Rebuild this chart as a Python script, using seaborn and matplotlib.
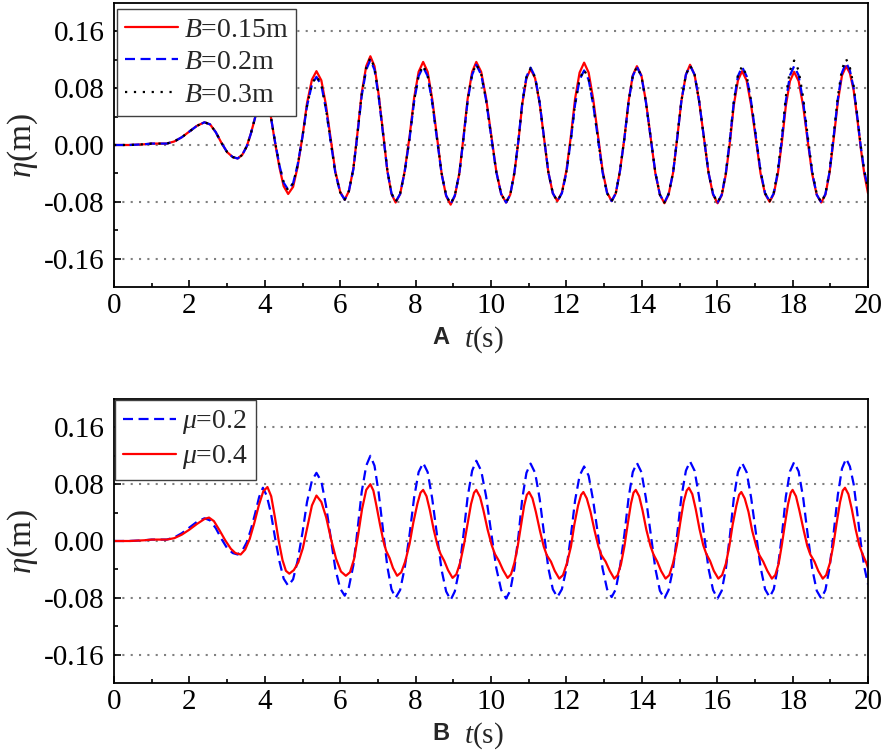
import numpy as np
import seaborn as sns
import matplotlib.pyplot as plt

# === Data (time in s, free-surface elevation in m) ===
# Panel A: three plate widths, sampled at the same instants
t_a = [
    0.0, 0.4, 0.8, 1.0, 1.2, 1.4, 1.6, 1.8, 2.0, 2.2, 2.4, 2.55, 2.7, 2.85,
    3.0, 3.15, 3.28, 3.40, 3.52, 3.63, 3.74, 3.85, 3.95, 4.05, 4.16, 4.27, 4.39, 4.50,
    4.62, 4.75, 4.87, 5.00, 5.12, 5.25,
    5.37, 5.50, 5.62, 5.75, 5.87, 6.00,
    6.12, 6.23, 6.35, 6.46, 6.57, 6.69,
    6.80, 6.91, 7.02, 7.14, 7.25, 7.36,
    7.47, 7.59, 7.71, 7.84, 7.96, 8.08,
    8.20, 8.32, 8.44, 8.57, 8.69, 8.81,
    8.93, 9.04, 9.16, 9.27, 9.38, 9.50,
    9.61, 9.74, 9.87, 10.01, 10.14, 10.27,
    10.40, 10.51, 10.62, 10.73, 10.83, 10.94,
    11.05, 11.17, 11.29, 11.41, 11.52, 11.64,
    11.76, 11.88, 12.00, 12.12, 12.23, 12.35,
    12.47, 12.59, 12.71, 12.84, 12.96, 13.08,
    13.20, 13.31, 13.42, 13.54, 13.65, 13.76,
    13.87, 13.99, 14.11, 14.24, 14.36, 14.48,
    14.60, 14.71, 14.83, 14.94, 15.05, 15.17,
    15.28, 15.40, 15.52, 15.65, 15.77, 15.89,
    16.01, 16.12, 16.23, 16.34, 16.44, 16.55,
    16.66, 16.78, 16.90, 17.03, 17.15, 17.27,
    17.39, 17.50, 17.61, 17.72, 17.82, 17.93,
    18.04, 18.16, 18.28, 18.40, 18.52, 18.64,
    18.76, 18.87, 18.98, 19.09, 19.20, 19.31,
    19.42, 19.52, 19.62, 19.71, 19.81, 19.90, 20.00,
]

eta_b015 = [
    0.000, 0.000, 0.001, 0.002, 0.002, 0.002, 0.005, 0.011, 0.019, 0.027, 0.032, 0.029, 0.018, 0.003,
    -0.010, -0.017, -0.019, -0.014, -0.002, 0.016, 0.038, 0.062, 0.075, 0.064, 0.040, 0.004, -0.032, -0.058,
    -0.069, -0.059, -0.031, 0.012, 0.059, 0.092,
    0.104, 0.091, 0.057, 0.008, -0.037, -0.066,
    -0.077, -0.065, -0.033, 0.018, 0.073, 0.111,
    0.125, 0.111, 0.071, 0.016, -0.036, -0.069,
    -0.081, -0.069, -0.037, 0.012, 0.066, 0.103,
    0.117, 0.103, 0.065, 0.011, -0.040, -0.072,
    -0.084, -0.072, -0.040, 0.011, 0.065, 0.103,
    0.117, 0.103, 0.066, 0.012, -0.037, -0.069,
    -0.081, -0.070, -0.040, 0.007, 0.058, 0.094,
    0.107, 0.094, 0.059, 0.008, -0.038, -0.068,
    -0.079, -0.067, -0.036, 0.013, 0.065, 0.102,
    0.116, 0.102, 0.065, 0.013, -0.036, -0.067,
    -0.079, -0.068, -0.037, 0.010, 0.062, 0.098,
    0.111, 0.098, 0.061, 0.009, -0.040, -0.070,
    -0.082, -0.070, -0.039, 0.010, 0.062, 0.099,
    0.113, 0.099, 0.062, 0.010, -0.039, -0.070,
    -0.082, -0.071, -0.041, 0.005, 0.056, 0.091,
    0.104, 0.091, 0.056, 0.007, -0.040, -0.069,
    -0.080, -0.069, -0.040, 0.006, 0.055, 0.090,
    0.103, 0.090, 0.055, 0.006, -0.041, -0.070,
    -0.081, -0.070, -0.039, 0.009, 0.061, 0.098,
    0.111, 0.101, 0.077, 0.040, -0.005, -0.040, -0.068,
]

# B = 0.2 m is also the mu = 0.2 case of panel B
eta_b02 = [
    0.000, 0.000, 0.001, 0.002, 0.002, 0.002, 0.005, 0.011, 0.019, 0.027, 0.032, 0.029, 0.018, 0.003,
    -0.010, -0.017, -0.019, -0.014, -0.002, 0.016, 0.038, 0.062, 0.075, 0.064, 0.040, 0.005, -0.029, -0.053,
    -0.063, -0.054, -0.028, 0.012, 0.055, 0.085,
    0.096, 0.084, 0.051, 0.004, -0.039, -0.067,
    -0.077, -0.065, -0.034, 0.016, 0.069, 0.106,
    0.120, 0.106, 0.068, 0.014, -0.036, -0.068,
    -0.080, -0.069, -0.038, 0.009, 0.061, 0.097,
    0.110, 0.097, 0.060, 0.008, -0.041, -0.071,
    -0.083, -0.071, -0.040, 0.009, 0.062, 0.099,
    0.113, 0.099, 0.063, 0.010, -0.038, -0.069,
    -0.081, -0.070, -0.039, 0.008, 0.060, 0.096,
    0.109, 0.096, 0.060, 0.009, -0.038, -0.068,
    -0.079, -0.068, -0.039, 0.008, 0.057, 0.092,
    0.105, 0.092, 0.057, 0.008, -0.039, -0.068,
    -0.079, -0.068, -0.037, 0.010, 0.061, 0.097,
    0.110, 0.097, 0.060, 0.009, -0.039, -0.070,
    -0.081, -0.069, -0.039, 0.010, 0.062, 0.099,
    0.112, 0.099, 0.062, 0.010, -0.039, -0.069,
    -0.081, -0.070, -0.039, 0.009, 0.060, 0.097,
    0.110, 0.097, 0.061, 0.010, -0.037, -0.068,
    -0.079, -0.068, -0.037, 0.010, 0.062, 0.098,
    0.111, 0.098, 0.061, 0.009, -0.039, -0.070,
    -0.081, -0.069, -0.038, 0.012, 0.065, 0.102,
    0.116, 0.105, 0.080, 0.042, -0.003, -0.036, -0.061,
]

eta_b03 = [
    0.000, 0.000, 0.001, 0.002, 0.002, 0.002, 0.005, 0.011, 0.019, 0.027, 0.032, 0.029, 0.018, 0.003,
    -0.010, -0.017, -0.019, -0.014, -0.002, 0.016, 0.038, 0.062, 0.075, 0.064, 0.040, 0.005, -0.029, -0.053,
    -0.064, -0.054, -0.029, 0.012, 0.055, 0.086,
    0.097, 0.085, 0.052, 0.005, -0.039, -0.067,
    -0.077, -0.065, -0.033, 0.017, 0.071, 0.109,
    0.123, 0.109, 0.070, 0.015, -0.035, -0.068,
    -0.080, -0.068, -0.038, 0.010, 0.062, 0.099,
    0.112, 0.098, 0.061, 0.009, -0.040, -0.071,
    -0.083, -0.071, -0.040, 0.010, 0.063, 0.100,
    0.114, 0.100, 0.063, 0.011, -0.038, -0.069,
    -0.081, -0.070, -0.039, 0.008, 0.059, 0.095,
    0.108, 0.095, 0.059, 0.009, -0.038, -0.068,
    -0.079, -0.068, -0.038, 0.008, 0.058, 0.093,
    0.106, 0.093, 0.058, 0.008, -0.038, -0.068,
    -0.079, -0.068, -0.037, 0.010, 0.061, 0.097,
    0.110, 0.097, 0.060, 0.009, -0.039, -0.070,
    -0.081, -0.069, -0.039, 0.010, 0.062, 0.099,
    0.112, 0.099, 0.062, 0.010, -0.039, -0.069,
    -0.081, -0.070, -0.039, 0.009, 0.061, 0.098,
    0.111, 0.098, 0.062, 0.010, -0.037, -0.068,
    -0.079, -0.067, -0.035, 0.014, 0.068, 0.105,
    0.119, 0.105, 0.067, 0.013, -0.037, -0.069,
    -0.081, -0.069, -0.037, 0.014, 0.068, 0.107,
    0.121, 0.109, 0.083, 0.044, -0.002, -0.036, -0.062,
]

# Panel B: friction coefficient mu = 0.4
t_b = [
    0.0, 0.4, 0.8, 1.0, 1.2, 1.4, 1.6, 1.8, 2.0, 2.2, 2.4, 2.52, 2.65, 2.8,
    2.95, 3.1, 3.22, 3.36, 3.48, 3.6, 3.72, 3.84, 3.96, 4.07, 4.17, 4.27, 4.37, 4.47, 4.56,
    4.65, 4.77, 4.89, 5.01, 5.13, 5.25,
    5.37, 5.50, 5.63, 5.76, 5.89, 6.02,
    6.15, 6.26, 6.37, 6.48, 6.58, 6.69,
    6.80, 6.88, 6.96, 7.06, 7.15, 7.22, 7.31, 7.40,
    7.51, 7.62, 7.73, 7.84, 7.94, 8.05, 8.13,
    8.20, 8.29, 8.38, 8.48, 8.58, 8.66, 8.76, 8.86,
    8.98, 9.08, 9.18, 9.28, 9.38, 9.47, 9.55,
    9.61, 9.71, 9.80, 9.91, 10.02, 10.10, 10.21, 10.32,
    10.44, 10.53, 10.62, 10.71, 10.80, 10.88, 10.95,
    11.01, 11.10, 11.19, 11.30, 11.40, 11.48, 11.59, 11.69,
    11.81, 11.91, 12.01, 12.12, 12.21, 12.31, 12.39,
    12.45, 12.54, 12.64, 12.75, 12.85, 12.93, 13.04, 13.15,
    13.27, 13.36, 13.45, 13.54, 13.63, 13.71, 13.78,
    13.84, 13.93, 14.02, 14.12, 14.23, 14.31, 14.41, 14.51,
    14.63, 14.73, 14.83, 14.93, 15.02, 15.11, 15.19,
    15.25, 15.34, 15.43, 15.53, 15.63, 15.71, 15.81, 15.91,
    16.03, 16.13, 16.23, 16.32, 16.41, 16.51, 16.58,
    16.64, 16.73, 16.83, 16.93, 17.04, 17.12, 17.22, 17.33,
    17.45, 17.54, 17.63, 17.71, 17.80, 17.88, 17.95,
    18.00, 18.09, 18.18, 18.29, 18.39, 18.47, 18.58, 18.68,
    18.80, 18.89, 18.99, 19.08, 19.17, 19.26, 19.33,
    19.39, 19.48, 19.57, 19.67, 19.77, 19.85, 19.95, 20.00,
]

eta_mu04 = [
    0.000, 0.000, 0.001, 0.002, 0.002, 0.002, 0.004, 0.009, 0.016, 0.024, 0.031, 0.033, 0.028, 0.015,
    0.001, -0.011, -0.017, -0.019, -0.012, 0.003, 0.025, 0.050, 0.070, 0.076, 0.063, 0.033, 0.000, -0.027, -0.042,
    -0.046, -0.041, -0.030, -0.010, 0.020, 0.050,
    0.064, 0.055, 0.033, 0.002, -0.025, -0.043,
    -0.049, -0.044, -0.025, 0.010, 0.045, 0.072,
    0.080, 0.071, 0.050, 0.022, -0.001, -0.014, -0.024, -0.038,
    -0.049, -0.044, -0.028, -0.004, 0.026, 0.053, 0.068,
    0.072, 0.063, 0.043, 0.016, -0.006, -0.018, -0.028, -0.041,
    -0.052, -0.047, -0.031, -0.006, 0.025, 0.052, 0.068,
    0.072, 0.062, 0.043, 0.016, -0.006, -0.018, -0.028, -0.041,
    -0.052, -0.047, -0.031, -0.007, 0.023, 0.050, 0.065,
    0.069, 0.060, 0.041, 0.014, -0.008, -0.020, -0.029, -0.042,
    -0.053, -0.048, -0.032, -0.008, 0.023, 0.050, 0.065,
    0.069, 0.060, 0.041, 0.014, -0.008, -0.020, -0.029, -0.042,
    -0.053, -0.048, -0.032, -0.007, 0.025, 0.052, 0.068,
    0.072, 0.063, 0.043, 0.016, -0.007, -0.019, -0.029, -0.042,
    -0.053, -0.048, -0.031, -0.006, 0.026, 0.055, 0.071,
    0.075, 0.066, 0.045, 0.017, -0.006, -0.018, -0.028, -0.042,
    -0.053, -0.048, -0.032, -0.008, 0.023, 0.050, 0.065,
    0.069, 0.060, 0.041, 0.014, -0.008, -0.020, -0.029, -0.042,
    -0.053, -0.048, -0.032, -0.007, 0.025, 0.052, 0.068,
    0.072, 0.063, 0.043, 0.016, -0.007, -0.019, -0.029, -0.042,
    -0.053, -0.048, -0.031, -0.006, 0.026, 0.055, 0.071,
    0.075, 0.066, 0.045, 0.017, -0.006, -0.018, -0.030, -0.038,
]

assert len(t_a) == len(eta_b015) == len(eta_b02) == len(eta_b03)
assert len(t_b) == len(eta_mu04)

labels_a = [r"$B$=0.15m", r"$B$=0.2m", r"$B$=0.3m"]
labels_b = [r"$\mu$=0.2", r"$\mu$=0.4"]
panel_tags = ["A", "B"]
x_ticks = list(range(0, 21, 2))
x_minor = list(range(1, 20, 2))
y_ticks = [-0.16, -0.08, 0.00, 0.08, 0.16]
y_minor = [-0.12, -0.04, 0.04, 0.12]
y_tick_labels = ["-0.16", "-0.08", "0.00", "0.08", "0.16"]

# === Style ===
sns.set_style("ticks")
plt.rcParams["font.family"] = ["Liberation Serif", "DejaVu Serif"]
plt.rcParams["mathtext.fontset"] = "custom"
plt.rcParams["mathtext.rm"] = "Liberation Serif"
plt.rcParams["mathtext.it"] = "Liberation Serif:italic"
plt.rcParams["mathtext.bf"] = "Liberation Serif:bold"
plt.rcParams["axes.unicode_minus"] = False

RED = "#ff0000"
BLUE = "#0000ff"
DASH = (0, (4.5, 2.5))
DOT = (0, (1, 3))
LW = 1.6

fig = plt.figure(figsize=(8.86, 7.5), dpi=100)
W, H = 886, 750
ax_a = fig.add_axes([114 / W, 1 - 287 / H, 754 / W, 284 / H])
ax_b = fig.add_axes([114 / W, 1 - 683 / H, 754 / W, 284 / H])

# === Panel A ===
series_a = [
    (eta_b015, RED, "-"),
    (eta_b02, BLUE, DASH),
    (eta_b03, "black", DOT),
]
for (eta, color, ls), label in zip(series_a, labels_a):
    sns.lineplot(x=t_a, y=eta, ax=ax_a, color=color, linestyle=ls, lw=LW,
                 label=label, estimator=None, sort=False)

# === Panel B ===
sns.lineplot(x=t_a, y=eta_b02, ax=ax_b, color=BLUE, linestyle=DASH, lw=LW,
             label=labels_b[0], estimator=None, sort=False)
sns.lineplot(x=t_b, y=eta_mu04, ax=ax_b, color=RED, linestyle="-", lw=LW,
             label=labels_b[1], estimator=None, sort=False)

legend_anchor = {ax_a: (0.004, 0.979), ax_b: (0.0013, 0.9965)}

for ax, tag in zip([ax_a, ax_b], panel_tags):
    ax.set_xlim(0, 20)
    ax.set_ylim(-0.2, 0.2)
    ax.set_xticks(x_ticks)
    ax.set_xticks(x_minor, minor=True)
    ax.set_yticks(y_ticks)
    ax.set_yticklabels(y_tick_labels)
    ax.set_yticks(y_minor, minor=True)
    ax.tick_params(which="both", direction="in", top=False, right=False,
                   width=1.2, labelsize=21, colors="black")
    ax.tick_params(which="major", length=5)
    ax.tick_params(which="minor", length=3)
    ax.tick_params(axis="x", which="major", pad=4.5)
    ax.tick_params(axis="y", which="major", pad=7)
    for sp in ax.spines.values():
        sp.set_linewidth(1.3)
        sp.set_color("black")
        sp.set_visible(True)
    ax.set_axisbelow(True)
    ax.grid(False)
    ax.yaxis.grid(True, which="major", linestyle=DOT, color="#808080", linewidth=1.5)

    ax.set_xlabel(r"$t$(s)", fontsize=21)
    ax.xaxis.set_label_coords(0.49, -0.131)
    ax.set_ylabel(r"$\eta$(m)", fontsize=24)
    ax.yaxis.set_label_coords(-0.098, 0.5)
    ax.text(0.434, -0.178, tag, transform=ax.transAxes, ha="center", va="center",
            fontsize=17, fontweight="bold", family="Liberation Sans")

    leg = ax.legend(loc="upper left", bbox_to_anchor=legend_anchor[ax],
                    borderaxespad=0, fontsize=20, frameon=True, fancybox=False,
                    framealpha=1, edgecolor="#404040", handlelength=1.9,
                    handletextpad=0.2, borderpad=0.3, labelspacing=0.25)
    leg.get_frame().set_linewidth(1.0)

fig.savefig("out.png", dpi=100)
